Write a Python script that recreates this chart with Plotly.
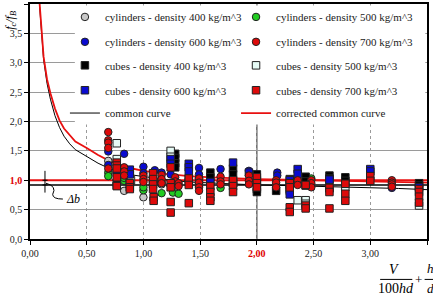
import plotly.graph_objects as go

# ---------------- data ----------------
cyl400_x = [0.69, 0.83, 1.00, 1.16, 1.49, 2.17]
cyl400_y = [1.33, 0.82, 0.71, 0.93, 0.90, 0.92]

cyl500_x = [0.69, 0.69, 0.83, 0.83, 1.00, 1.00, 1.16, 1.16, 1.26, 1.31, 1.68, 1.79, 2.48]
cyl500_y = [1.13, 1.07, 0.99, 1.04, 0.83, 0.88, 0.97, 0.78, 0.79, 0.77, 0.87, 0.90, 1.03]

cyl600_x = [0.69, 0.69, 0.83, 1.00, 1.00, 1.10, 1.16, 1.24, 1.49, 1.49, 1.68, 1.93, 2.18, 2.18, 3.19]
cyl600_y = [1.49, 1.26, 1.45, 1.23, 1.12, 1.17, 1.13, 1.10, 1.21, 1.10, 1.19, 1.16, 1.13, 1.08, 0.87]

cyl700_x = [0.69, 0.69, 0.69, 0.69, 0.69, 0.83, 0.83, 0.83, 1.00, 1.00, 1.00, 1.16, 1.16, 1.16,
            1.28, 1.28, 1.31, 1.31, 1.49, 1.49, 1.49, 1.49, 1.68, 1.68, 1.68, 1.93, 1.93, 1.93,
            2.17, 2.17, 2.17, 2.36, 2.36, 2.48, 2.48, 2.48, 3.19, 3.19, 3.19, 3.19]
cyl700_y = [1.82, 1.68, 1.64, 1.55, 1.20, 1.22, 1.15, 1.08, 1.08, 1.02, 0.97, 1.09, 1.02, 0.95,
            1.05, 0.98, 0.95, 0.90, 1.03, 0.96, 0.88, 0.82, 1.06, 0.98, 0.93, 1.08, 0.99, 0.93,
            1.00, 0.96, 0.88, 1.00, 0.92, 1.00, 0.95, 0.88, 1.00, 0.96, 0.93, 0.89]

cube400_x = [0.765, 0.765, 0.88, 0.88, 1.085, 1.28, 1.28, 1.28, 1.28, 1.40, 1.49, 1.59, 1.59,
             1.79, 1.79, 1.79, 2.00, 2.00, 2.00, 2.00, 2.17, 2.29, 2.29, 2.43, 2.43, 2.43,
             2.64, 2.64, 2.78, 2.78, 3.43, 3.43]
cube400_y = [0.96, 0.91, 1.05, 0.98, 0.97, 1.45, 1.38, 1.29, 1.22, 1.03, 1.00, 1.13, 1.05,
             1.20, 1.10, 0.95, 1.10, 1.00, 0.85, 0.80, 0.82, 1.02, 0.92, 1.06, 0.98, 0.91,
             1.08, 1.03, 1.05, 0.99, 0.95, 0.91]

cube500_x = [0.765, 0.765, 0.765, 0.89, 1.09, 1.24, 1.24, 1.40, 1.79, 2.29, 2.36, 2.43, 2.43,
             2.64, 2.64, 2.78, 3.43]
cube500_y = [1.63, 1.36, 1.13, 1.00, 0.98, 1.50, 1.40, 0.97, 0.96, 0.85, 0.66, 0.66, 0.60,
             0.94, 0.86, 0.88, 0.57]

cube600_x = [0.765, 0.88, 0.88, 1.24, 1.24, 1.40, 1.40, 1.40, 1.59, 1.79, 1.93, 2.29, 2.29,
             2.29, 2.36, 2.36, 2.64, 3.00, 3.00, 3.43]
cube600_y = [1.17, 1.18, 1.10, 1.36, 1.28, 1.28, 1.22, 1.15, 0.97, 1.30, 1.13, 1.00, 0.82,
             0.76, 1.19, 1.11, 1.01, 1.19, 1.15, 0.88]

cube700_x = [0.765, 0.765, 0.765, 0.765, 0.765, 0.88, 0.88, 0.88, 1.085, 1.085, 1.085, 1.085,
             1.09, 1.09, 1.24, 1.24, 1.24, 1.24, 1.24, 1.40, 1.40, 1.40, 1.59, 1.59, 1.59,
             1.59, 1.79, 1.79, 1.79, 2.00, 2.00, 2.00, 2.29, 2.29, 2.29, 2.29, 2.43, 2.43,
             2.43, 2.64, 2.64, 2.64, 2.78, 2.78, 2.78, 3.00, 3.00, 3.43, 3.43, 3.43, 3.43]
cube700_y = [1.30, 1.25, 1.20, 1.05, 0.90, 0.95, 0.88, 0.85, 1.12, 1.02, 0.93, 0.85,
             0.71, 0.65, 1.22, 0.95, 0.88, 0.63, 0.45, 1.03, 0.92, 0.61, 0.90, 0.80, 0.71,
             0.65, 1.00, 0.90, 0.80, 1.05, 0.95, 0.88, 0.95, 0.88, 0.54, 0.46, 0.92, 0.57,
             0.52, 0.87, 0.80, 0.52, 0.94, 0.77, 0.65, 1.07, 0.99, 0.85, 0.80, 0.72, 0.62]

curve_x = [0.085, 0.10, 0.12, 0.15, 0.18, 0.22, 0.26, 0.30, 0.35, 0.40, 0.50, 0.60, 0.70, 0.80,
           0.90, 1.00, 1.20, 1.40, 1.60, 1.80, 2.00, 2.25, 2.50, 2.75, 3.00, 3.25, 3.50]
common_y = [3.95, 3.50, 3.05, 2.65, 2.38, 2.10, 1.90, 1.75, 1.62, 1.52, 1.40, 1.29, 1.20, 1.13,
            1.09, 1.06, 1.01, 0.97, 0.95, 0.93, 0.92, 0.91, 0.90, 0.89, 0.88, 0.86, 0.84]
corrected_y = [4.00, 3.55, 3.10, 2.72, 2.48, 2.22, 2.02, 1.88, 1.76, 1.66, 1.55, 1.43, 1.33, 1.25,
               1.20, 1.16, 1.11, 1.07, 1.05, 1.03, 1.02, 1.01, 1.00, 0.99, 0.99, 0.97, 0.96]

ref_level = 1.0       # red reference line
shifted_level = 0.92  # black line (delta b)
x_range = [0, 3.5]

x_ticks = [0, 0.5, 1.0, 1.5, 2.0, 2.5, 3.0, 3.5]
x_ticktext = ["0,00", "0,50", "1,00", "1,50", "<b><span style='color:#e00000'>2,00</span></b>",
              "2,50", "3,00", "3,50"]
y_ticks = [0, 0.5, 1.0, 1.5, 2.0, 2.5, 3.0, 3.5, 4.0]
y_ticktext = ["0,0", "0,5", "<b><span style='color:#e00000'>1,0</span></b>", "1,5", "2,0",
              "2,5", "3,0", "3,5", "4,0"]

names = ["cylinders - density 400 kg/m^3", "cylinders - density 500 kg/m^3",
         "cylinders - density 600 kg/m^3", "cylinders - density 700 kg/m^3",
         "cubes - density 400 kg/m^3", "cubes - density 500 kg/m^3",
         "cubes - density 600 kg/m^3", "cubes - density 700 kg/m^3",
         "common curve", "corrected common curve"]

FONT = "Liberation Serif, Times New Roman, Times, serif"
RED = "#e81010"

# legend slot for each entry: (column, row); one legend per entry
legend_ids = ["legend"] + ["legend%d" % i for i in range(2, 11)]
col_x = [0.088, 0.519]
row_y = [0.945, 0.839, 0.739, 0.633, 0.536]

fig = go.Figure()

# reference lines and curves
fig.add_trace(go.Scatter(x=x_range, y=[shifted_level] * 2, mode="lines",
                         line=dict(color="black", width=1.5), showlegend=False, hoverinfo="skip"))
fig.add_trace(go.Scatter(x=x_range, y=[ref_level] * 2, mode="lines",
                         line=dict(color=RED, width=2), showlegend=False, hoverinfo="skip"))
fig.add_trace(go.Scatter(x=curve_x, y=common_y, mode="lines", name=names[8],
                         legend=legend_ids[8], line=dict(color="black", width=1)))
fig.add_trace(go.Scatter(x=curve_x, y=corrected_y, mode="lines", name=names[9],
                         legend=legend_ids[9], line=dict(color=RED, width=1.8)))

# (x, y, symbol, colour, name index)
series = [
    (cyl400_x, cyl400_y, "circle", "#c8c8c8", 0),
    (cyl500_x, cyl500_y, "circle", "#22cc22", 1),
    (cyl600_x, cyl600_y, "circle", "#0a0ad0", 2),
    (cube400_x, cube400_y, "square", "#000000", 4),
    (cube500_x, cube500_y, "square", "#e6fbf6", 5),
    (cube600_x, cube600_y, "square", "#0a0ad0", 6),
    (cyl700_x, cyl700_y, "circle", "#dd0a0a", 3),
    (cube700_x, cube700_y, "square", "#dd0a0a", 7),
]
for xs, ys, sym, col, ni in series:
    fig.add_trace(go.Scatter(x=xs, y=ys, mode="markers", name=names[ni], legend=legend_ids[ni],
                             marker=dict(symbol=sym, size=7.5, color=col,
                                         line=dict(color="#222222", width=1))))

# x = 2.00 line
fig.add_shape(type="line", x0=2.0, x1=2.0, y0=0, y1=4, xref="x", yref="y",
              line=dict(color="#444444", width=1.2), layer="below")

# white box behind the legend
fig.add_shape(type="rect", xref="paper", yref="paper", x0=0.113, x1=0.9957, y0=0.487, y1=0.994,
              fillcolor="white", line=dict(width=0), layer="above")

# delta b marker
fig.add_shape(type="line", x0=0.132, x1=0.132, y0=0.79, y1=1.16, line=dict(color="black", width=1))
fig.add_shape(type="line", x0=0.11, x1=0.155, y0=1.0, y1=1.0, line=dict(color="black", width=1))
fig.add_shape(type="line", x0=0.11, x1=0.155, y0=0.92, y1=0.92, line=dict(color="black", width=1))
fig.add_shape(type="path", path="M 0.14 0.95 Q 0.24 0.90 0.20 0.76 Q 0.20 0.68 0.29 0.68",
              line=dict(color="black", width=1))
fig.add_annotation(x=0.30, y=0.68, xref="x", yref="y", text="<i>Δb</i>", showarrow=False,
                   xanchor="left", font=dict(family=FONT, size=12, color="black"))

# y axis title
fig.add_annotation(x=-0.047, y=0.93, xref="paper", yref="paper",
                   text="<i>f<sub>c</sub>/f<sub>B</sub></i>", xanchor="center", yanchor="middle",
                   textangle=-90, showarrow=False, font=dict(family=FONT, size=12, color="black"))

# x axis title: V/(100hd) + h/d
ax_font = dict(family=FONT, size=14, color="black")
fig.add_annotation(x=0.916, y=-0.128, xref="paper", yref="paper", text="<i>V</i>",
                   showarrow=False, font=ax_font, xanchor="center", yanchor="middle")
fig.add_annotation(x=0.922, y=-0.211, xref="paper", yref="paper", text="100<i>hd</i>",
                   showarrow=False, font=ax_font, xanchor="center", yanchor="middle")
fig.add_shape(type="line", xref="paper", yref="paper", x0=0.882, x1=0.963, y0=-0.172, y1=-0.172,
              line=dict(color="black", width=1))
fig.add_annotation(x=0.978, y=-0.172, xref="paper", yref="paper", text="+",
                   showarrow=False, font=dict(family=FONT, size=13, color="black"),
                   xanchor="center", yanchor="middle")
fig.add_annotation(x=0.9945, y=-0.124, xref="paper", yref="paper", text="<i>h</i>",
                   showarrow=False, font=dict(family=FONT, size=13, color="black"),
                   xanchor="left", yanchor="middle")
fig.add_annotation(x=0.9945, y=-0.211, xref="paper", yref="paper", text="<i>d</i>",
                   showarrow=False, font=dict(family=FONT, size=13, color="black"),
                   xanchor="left", yanchor="middle")
fig.add_shape(type="line", xref="paper", yref="paper", x0=0.994, x1=1.03, y0=-0.172, y1=-0.172,
              line=dict(color="black", width=1))

legends = {}
for i, lid in enumerate(legend_ids):
    legends[lid] = dict(orientation="v", x=col_x[i % 2], y=row_y[i // 2],
                        xanchor="left", yanchor="middle", bgcolor="rgba(0,0,0,0)",
                        borderwidth=0, itemwidth=30,
                        font=dict(family=FONT, size=11, color="#222222"))

fig.update_layout(
    width=433, height=296,
    margin=dict(l=30, r=6, t=2, b=57),
    paper_bgcolor="white", plot_bgcolor="white",
    font=dict(family=FONT, size=10, color="#222222"),
    showlegend=True,
    xaxis=dict(range=x_range, tickvals=x_ticks, ticktext=x_ticktext, ticks="outside", ticklen=4,
               tickcolor="black", showline=True, linecolor="black", linewidth=1.5, mirror=True,
               showgrid=True, gridcolor="#9a9a9a", gridwidth=1, griddash="dot", zeroline=False,
               tickfont=dict(family=FONT, size=10)),
    yaxis=dict(range=[0, 4], tickvals=y_ticks, ticktext=y_ticktext, ticks="outside", ticklen=4,
               tickcolor="black", showline=True, linecolor="black", linewidth=1.5, mirror=True,
               showgrid=True, gridcolor="#9a9a9a", gridwidth=1, zeroline=False,
               tickfont=dict(family=FONT, size=10)),
    **legends,
)

fig.write_html("out.html")
